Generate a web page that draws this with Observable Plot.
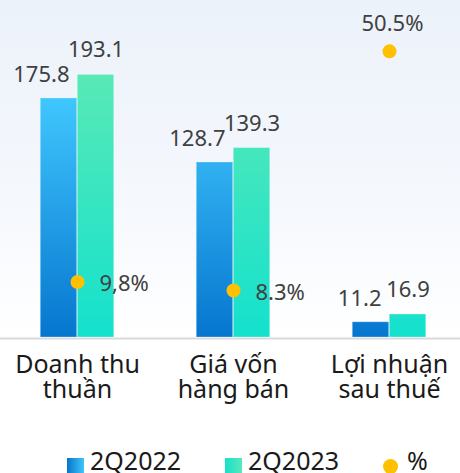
<!DOCTYPE html>
<html>
<head>
<meta charset="utf-8">
<script src="https://cdn.jsdelivr.net/npm/d3@7"></script>
<script src="https://cdn.jsdelivr.net/npm/@observablehq/plot@0.6"></script>
<style>
  html, body { margin: 0; padding: 0; background: #fff; overflow: hidden; }
  #wrap { position: relative; width: 460px; height: 473px; overflow: hidden; font-family: "Noto Sans", sans-serif; }
  #legend { position: absolute; left: 67px; top: 448px; display: flex; align-items: flex-start; font-size: 25px; line-height: 25px; color: #1a1a1a; }
  .item { display: flex; align-items: flex-start; }
  .sw { width: 17px; height: 17px; margin-top: 10px; margin-right: 6px; }
  .dotsw { width: 15px; height: 15px; border-radius: 50%; margin-top: 10.5px; margin-right: 9px; background: #FFC000; }
</style>
</head>
<body>
<div id="wrap"><div id="chart"></div><div id="legend"></div></div>
<script>
const categories = ["Doanh thu\nthuần", "Giá vốn\nhàng bán", "Lợi nhuận\nsau thuế"];
const series = ["2Q2022", "2Q2023"];
const values2022 = [175.8, 128.7, 11.2];
const values2023 = [193.1, 139.3, 16.9];
const pctValues = [9.8, 8.3, 50.5];
const pctLabels = ["9,8%", "8.3%", "50.5%"];
const pctLegend = "%";

const yMax = 250;      // primary axis max
const pctMax = 60;     // secondary axis max (%)

const rows2022 = categories.map((c, i) => ({cat: c, value: values2022[i]}));
const rows2023 = categories.map((c, i) => ({cat: c, value: values2023[i]}));
const pctRows = categories.map((c, i) => ({cat: c, pct: pctValues[i], label: pctLabels[i]}));
const pctY = d => d.pct * yMax / pctMax;

const fmt = d3.format(".1f");
const band = 156.5, barW = 37;
const inA = band / 2 - barW, inB = band / 2;

const chart = Plot.plot({
  width: 460,
  height: 440,
  marginLeft: 0,
  marginRight: 0,
  marginTop: 0,
  marginBottom: 103,
  style: {fontFamily: "Noto Sans", background: "linear-gradient(to bottom, #ecf2fa 0px, #f5f8fd 200px, #ffffff 337px)", overflow: "visible"},
  x: {domain: categories, range: [-2.25, 467.25], padding: 0, label: null},
  y: {domain: [0, yMax], range: [337, -3], axis: null},
  marks: [
    Plot.ruleY([0], {stroke: "#d9d9d9", strokeWidth: 2, dy: 1}),
    Plot.barY(rows2022, {x: "cat", y: "value", fill: "url(#g2022)", insetLeft: inA, insetRight: inB, stroke: "#ffffff", strokeOpacity: 0.3, strokeWidth: 1}),
    Plot.barY(rows2023, {x: "cat", y: "value", fill: "url(#g2023)", insetLeft: inB, insetRight: inA, stroke: "#ffffff", strokeOpacity: 0.3, strokeWidth: 1}),
    Plot.text(rows2022, {x: "cat", y: "value", text: d => fmt(d.value), textAnchor: "end", dx: -8, dy: -16, lineAnchor: "bottom", fontSize: 22, fill: "#404040"}),
    Plot.text(rows2023, {x: "cat", y: "value", text: d => fmt(d.value), textAnchor: "middle", dx: barW / 2, dy: -17.5, lineAnchor: "bottom", fontSize: 22, fill: "#404040"}),
    Plot.dot(pctRows, {x: "cat", y: pctY, r: 7, fill: "#FFC000", stroke: "none"}),
    Plot.text(pctRows.filter(d => d.pct < 30), {x: "cat", y: pctY, text: "label", textAnchor: "start", dx: 22, dy: 2, lineAnchor: "middle", fontSize: 22, fill: "#404040"}),
    Plot.text(pctRows.filter(d => d.pct >= 30), {x: "cat", y: pctY, text: "label", textAnchor: "middle", dx: 3, dy: -20, lineAnchor: "bottom", fontSize: 22, fill: "#404040"}),
    Plot.axisX({tickSize: 0, tickPadding: 18, fontSize: 25, lineHeight: 1, fill: "#1a1a1a", label: null})
  ]
});

const svg = d3.select(chart);
const defs = svg.insert("defs", ":first-child");
const g1 = defs.append("linearGradient").attr("id", "g2022").attr("gradientUnits", "userSpaceOnUse")
  .attr("x1", 0).attr("x2", 0).attr("y1", 90).attr("y2", 337);
g1.append("stop").attr("offset", "0%").attr("stop-color", "#42c9ff");
g1.append("stop").attr("offset", "100%").attr("stop-color", "#0676cf");
const g2 = defs.append("linearGradient").attr("id", "g2023").attr("gradientUnits", "userSpaceOnUse")
  .attr("x1", 0).attr("x2", 0).attr("y1", 75).attr("y2", 337);
g2.append("stop").attr("offset", "0%").attr("stop-color", "#58e9b6");
g2.append("stop").attr("offset", "100%").attr("stop-color", "#14e1cd");

document.getElementById("chart").appendChild(chart);

// legend
const legend = d3.select("#legend");
const swatchGrad = ["linear-gradient(to right, #0a74cc, #3ec5fb)", "linear-gradient(to right, #18dfcd, #58e8b8)"];
series.forEach((s, i) => {
  const it = legend.append("div").attr("class", "item").style("margin-right", "44px");
  it.append("div").attr("class", "sw").style("background", swatchGrad[i]);
  it.append("span").text(s);
});
const itp = legend.append("div").attr("class", "item");
itp.append("div").attr("class", "dotsw");
itp.append("span").text(pctLegend);
</script>
</body>
</html>
